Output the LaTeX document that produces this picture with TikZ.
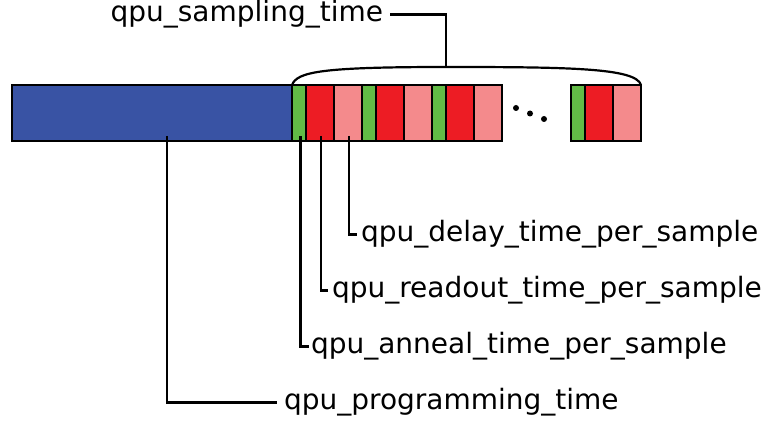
\documentclass[tikz,border=0pt]{standalone}
\usepackage{fontspec}
\setmainfont{DejaVu Sans}
\definecolor{qblue}{RGB}{57,83,164}
\definecolor{qgreen}{RGB}{98,187,70}
\definecolor{qred}{RGB}{237,28,36}
\definecolor{qpink}{RGB}{244,138,140}
\begin{document}
\begin{tikzpicture}[x=1pt,y=-1pt,
  seg/.style={draw=black,line width=1.4pt,inner sep=0pt,outer sep=0pt,minimum height=56pt,anchor=north west},
  gseg/.style={seg,fill=qgreen,minimum width=14pt},
  rseg/.style={seg,fill=qred,minimum width=28pt},
  pseg/.style={seg,fill=qpink,minimum width=28pt},
  lbl/.style={inner sep=0pt,outer sep=0pt,font=\fontsize{28}{30}\selectfont},
  lead/.style={line width=2.8pt},
  dot/.style={circle,fill=black,inner sep=0pt,minimum size=6pt}]
\useasboundingbox (0,0) rectangle (765,427);
% bar
\node[seg,fill=qblue,minimum width=280pt] (blue) at (12,85) {};
\node[gseg] (g1) at (292,85) {};
\node[rseg] (r1) at (306,85) {};
\node[pseg] (p1) at (334,85) {};
\node[gseg] (g2) at (362,85) {};
\node[rseg] (r2) at (376,85) {};
\node[pseg] (p2) at (404,85) {};
\node[gseg] (g3) at (432,85) {};
\node[rseg] (r3) at (446,85) {};
\node[pseg] (p3) at (474,85) {};
\node[gseg] (g4) at (571,85) {};
\node[rseg] (r4) at (585,85) {};
\node[pseg] (p4) at (613,85) {};
\draw[line width=2.4pt] (blue.north west) rectangle (p3.south east);
\draw[line width=2.4pt] (g4.north west) rectangle (p4.south east);
% dots
\node[dot] (d1) at (516,108) {};
\node[dot] (d2) at (530,113.5) {};
\node[dot] (d3) at (544,119) {};
% brace
\coordinate (top) at (446,67);
\draw[line width=2.2pt] (g1.north west) .. controls (297,72) and (320,67) .. (top)
  .. controls (570,67) and (636,68) .. (p4.north east);
% labels
\node[lbl,anchor=mid east] (st) at (383,19) {qpu\_sampling\_time};
\draw[lead] (top) |- ([xshift=7pt]st.east);
\node[lbl,anchor=mid west] (del) at (361,239) {qpu\_delay\_time\_per\_sample};
\node[lbl,anchor=mid west] (rd) at (332,295) {qpu\_readout\_time\_per\_sample};
\node[lbl,anchor=mid west] (an) at (311,351) {qpu\_anneal\_time\_per\_sample};
\node[lbl,anchor=mid west] (pr) at (284,407) {qpu\_programming\_time};
\draw[lead] ([yshift=5pt]p1.south -| 349,0) |- ([xshift=-4pt]del.west);
\draw[lead] ([yshift=5pt]r1.south -| 321,0) |- ([xshift=-4pt]rd.west);
\draw[lead] ([yshift=5pt]g1.south -| 300.5,0) |- ([xshift=-2pt]an.west);
\draw[lead] ([yshift=5pt]blue.south -| 167,0) |- ([xshift=-7pt]pr.west);
\end{tikzpicture}
\end{document}
